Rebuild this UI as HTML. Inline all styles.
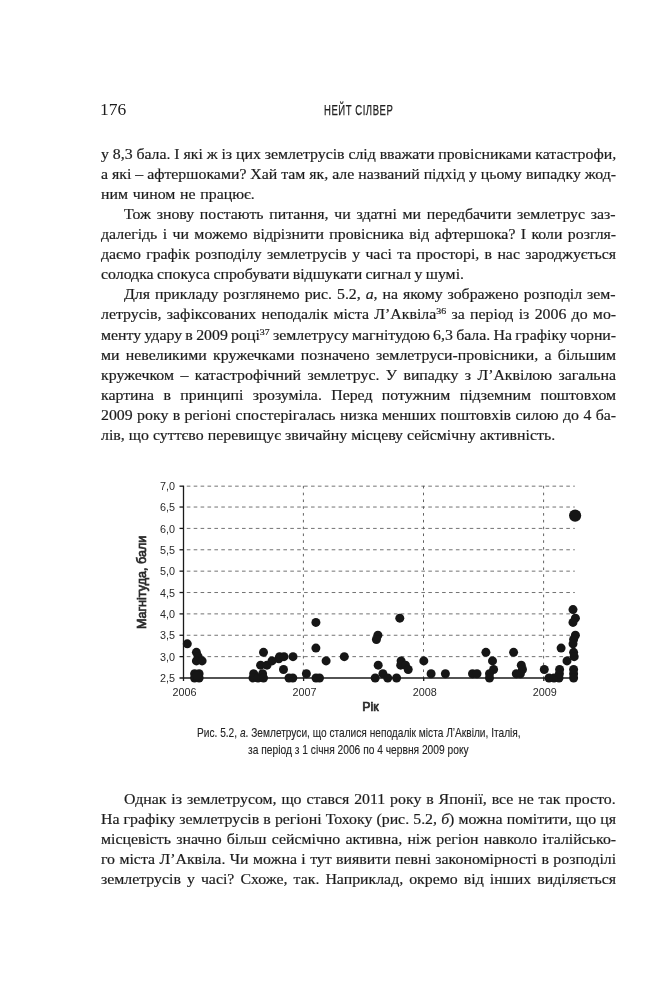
<!DOCTYPE html><html lang="uk"><head><meta charset="utf-8"><title>176</title><style>
html,body{margin:0;padding:0;background:#fff}
#p{position:relative;width:672px;height:1000px;overflow:hidden;background:#fff;color:#1c1c1c;
 font-family:"Liberation Serif",serif;font-size:13.6px;line-height:20px}
.t{position:absolute;white-space:nowrap;transform-origin:0 0;height:20px;-webkit-text-stroke:0.18px #1c1c1c}
.j{text-align:justify;text-align-last:justify}
sup{font-size:8.5px;line-height:0;vertical-align:5px}
.pn{position:absolute;left:99.6px;top:100px;font-size:16.5px;line-height:20px;transform:scaleX(1.06);transform-origin:0 0}
.hd{position:absolute;left:323.6px;top:99.7px;letter-spacing:0.8px;-webkit-text-stroke:0.25px #222;font-family:"Liberation Sans",sans-serif;font-size:14px;line-height:20px;
 white-space:nowrap;transform-origin:0 0;color:#222}
.cp{position:absolute;font-family:"Liberation Sans",sans-serif;font-size:12.6px;line-height:16px;height:16px;white-space:nowrap;
 transform-origin:0 0;color:#222;-webkit-text-stroke:0.1px #222;text-align:justify;text-align-last:justify}
.ch{position:absolute;left:0;top:0}
.g{stroke:#5a5a5a;stroke-width:0.85;stroke-dasharray:3.6 3.3}
.v{stroke-dasharray:2.6 4.2;stroke-width:0.95}
.a{stroke:#1a1a1a;stroke-width:1.3}
circle{fill:#161616}
text{font-family:"Liberation Sans",sans-serif;fill:#2a2a2a}
.yl{font-size:11.5px;text-anchor:end}
.xl{font-size:11.5px;text-anchor:middle}
.xt{font-size:12.6px;text-anchor:middle;stroke:#2a2a2a;stroke-width:0.7px}
.yt{font-size:12.8px;text-anchor:middle;stroke:#2a2a2a;stroke-width:0.7px}
</style></head><body><div id="p">
<div class="pn">176</div>
<div class="hd" id="hd" style="transform:scaleX(0.6801)">НЕЙТ СІЛВЕР</div>
<div class="t" style="top:145.00px;left:100.50px;word-spacing:-0.101px;transform:scaleX(1.1650)">у 8,3 бала. І які ж із цих землетрусів слід вважати провісниками катастрофи,</div>
<div class="t" style="top:165.00px;left:100.50px;word-spacing:-0.022px;transform:scaleX(1.1650)">а які – афтершоками? Хай там як, але названий підхід у цьому випадку жод-</div>
<div class="t" style="top:185.00px;left:100.50px;word-spacing:0.688px;transform:scaleX(1.1650)">ним чином не працює.</div>
<div class="t" style="top:205.00px;left:124.00px;word-spacing:1.497px;transform:scaleX(1.1650)">Тож знову постають питання, чи здатні ми передбачити землетрус заз-</div>
<div class="t" style="top:225.00px;left:100.50px;word-spacing:1.232px;transform:scaleX(1.1650)">далегідь і чи можемо відрізнити провісника від афтершока? І коли розгля-</div>
<div class="t" style="top:245.00px;left:100.50px;word-spacing:1.177px;transform:scaleX(1.1650)">даємо графік розподілу землетрусів у часі та просторі, в нас зароджується</div>
<div class="t" style="top:265.00px;left:100.50px;word-spacing:-0.535px;transform:scaleX(1.1650)">солодка спокуса спробувати відшукати сигнал у шумі.</div>
<div class="t" style="top:285.00px;left:124.00px;word-spacing:0.829px;transform:scaleX(1.1650)">Для прикладу розглянемо рис. 5.2, <i>а</i>, на якому зображено розподіл зем-</div>
<div class="t" style="top:305.00px;left:100.50px;word-spacing:1.144px;transform:scaleX(1.1650)">летрусів, зафіксованих неподалік міста Л’Аквіла<sup>36</sup> за період із 2006 до мо-</div>
<div class="t" style="top:326.00px;left:100.50px;word-spacing:-0.576px;transform:scaleX(1.1650)">менту удару в 2009 році<sup>37</sup> землетрусу магнітудою 6,3 бала. На графіку чорни-</div>
<div class="t" style="top:346.00px;left:100.50px;word-spacing:2.030px;transform:scaleX(1.1650)">ми невеликими кружечками позначено землетруси-провісники, а більшим</div>
<div class="t" style="top:366.00px;left:100.50px;word-spacing:2.112px;transform:scaleX(1.1650)">кружечком – катастрофічний землетрус. У випадку з Л’Аквілою загальна</div>
<div class="t" style="top:386.00px;left:100.50px;word-spacing:4.630px;transform:scaleX(1.1650)">картина в принципі зрозуміла. Перед потужним підземним поштовхом</div>
<div class="t" style="top:406.00px;left:100.50px;word-spacing:0.380px;transform:scaleX(1.1650)">2009 року в регіоні спостерігалась низка менших поштовхів силою до 4 ба-</div>
<div class="t" style="top:426.00px;left:100.50px;word-spacing:0.090px;transform:scaleX(1.1650)">лів, що суттєво перевищує звичайну місцеву сейсмічну активність.</div>
<div class="t" style="top:790.00px;left:124.00px;word-spacing:0.792px;transform:scaleX(1.1650)">Однак із землетрусом, що стався 2011 року в Японії, все не так просто.</div>
<div class="t" style="top:810.00px;left:100.50px;word-spacing:0.157px;transform:scaleX(1.1650)">На графіку землетрусів в регіоні Тохоку (рис. 5.2, <i>б</i>) можна помітити, що ця</div>
<div class="t" style="top:830.00px;left:100.50px;word-spacing:1.020px;transform:scaleX(1.1650)">місцевість значно більш сейсмічно активна, ніж регіон навколо італійсько-</div>
<div class="t" style="top:850.00px;left:100.50px;word-spacing:0.384px;transform:scaleX(1.1650)">го міста Л’Аквіла. Чи можна і тут виявити певні закономірності в розподілі</div>
<div class="t" style="top:870.00px;left:100.50px;word-spacing:1.789px;transform:scaleX(1.1650)">землетрусів у часі? Схоже, так. Наприклад, окремо від інших виділяється</div>
<svg class="ch" width="672" height="1000" viewBox="0 0 672 1000">
<line x1="186.8" y1="656.63" x2="574.8" y2="656.63" class="g"/>
<line x1="186.8" y1="635.26" x2="574.8" y2="635.26" class="g"/>
<line x1="186.8" y1="613.89" x2="574.8" y2="613.89" class="g"/>
<line x1="186.8" y1="592.52" x2="574.8" y2="592.52" class="g"/>
<line x1="186.8" y1="571.15" x2="574.8" y2="571.15" class="g"/>
<line x1="186.8" y1="549.78" x2="574.8" y2="549.78" class="g"/>
<line x1="186.8" y1="528.41" x2="574.8" y2="528.41" class="g"/>
<line x1="186.8" y1="507.04" x2="574.8" y2="507.04" class="g"/>
<line x1="186.8" y1="486.17" x2="574.8" y2="486.17" class="g"/>
<line x1="303.40" y1="485.87" x2="303.40" y2="678.00" class="g v"/>
<line x1="423.50" y1="485.87" x2="423.50" y2="678.00" class="g v"/>
<line x1="543.60" y1="485.87" x2="543.60" y2="678.00" class="g v"/>
<line x1="183.50" y1="485.67" x2="183.50" y2="681.00" class="a"/>
<line x1="179.50" y1="678.00" x2="574.80" y2="678.00" class="a"/>
<line x1="179.50" y1="656.63" x2="183.50" y2="656.63" class="a"/>
<line x1="179.50" y1="635.26" x2="183.50" y2="635.26" class="a"/>
<line x1="179.50" y1="613.89" x2="183.50" y2="613.89" class="a"/>
<line x1="179.50" y1="592.52" x2="183.50" y2="592.52" class="a"/>
<line x1="179.50" y1="571.15" x2="183.50" y2="571.15" class="a"/>
<line x1="179.50" y1="549.78" x2="183.50" y2="549.78" class="a"/>
<line x1="179.50" y1="528.41" x2="183.50" y2="528.41" class="a"/>
<line x1="179.50" y1="507.04" x2="183.50" y2="507.04" class="a"/>
<line x1="179.50" y1="486.17" x2="183.50" y2="486.17" class="a"/>
<line x1="303.60" y1="678.00" x2="303.60" y2="681.00" class="a"/>
<line x1="423.70" y1="678.00" x2="423.70" y2="681.00" class="a"/>
<line x1="543.80" y1="678.00" x2="543.80" y2="681.00" class="a"/>
<text transform="translate(175 682.10) scale(0.94 1)" class="yl">2,5</text>
<text transform="translate(175 660.73) scale(0.94 1)" class="yl">3,0</text>
<text transform="translate(175 639.36) scale(0.94 1)" class="yl">3,5</text>
<text transform="translate(175 617.99) scale(0.94 1)" class="yl">4,0</text>
<text transform="translate(175 596.62) scale(0.94 1)" class="yl">4,5</text>
<text transform="translate(175 575.25) scale(0.94 1)" class="yl">5,0</text>
<text transform="translate(175 553.88) scale(0.94 1)" class="yl">5,5</text>
<text transform="translate(175 532.51) scale(0.94 1)" class="yl">6,0</text>
<text transform="translate(175 511.14) scale(0.94 1)" class="yl">6,5</text>
<text transform="translate(175 490.27) scale(0.94 1)" class="yl">7,0</text>
<text transform="translate(184.50 695.6) scale(0.94 1)" class="xl">2006</text>
<text transform="translate(304.60 695.6) scale(0.94 1)" class="xl">2007</text>
<text transform="translate(424.70 695.6) scale(0.94 1)" class="xl">2008</text>
<text transform="translate(544.80 695.6) scale(0.94 1)" class="xl">2009</text>
<text transform="translate(370.4 710.8) scale(0.98 1)" class="xt">Рік</text>
<text transform="translate(146.3 582.4) rotate(-90) scale(0.985 1)" class="yt">Магнітуда, бали</text>
<circle cx="187.3" cy="643.81" r="4.5"/>
<circle cx="196.4" cy="652.36" r="4.5"/>
<circle cx="198.2" cy="656.63" r="4.5"/>
<circle cx="196.4" cy="660.90" r="4.5"/>
<circle cx="202.1" cy="660.90" r="4.5"/>
<circle cx="194.6" cy="673.73" r="4.5"/>
<circle cx="199.1" cy="673.73" r="4.5"/>
<circle cx="194.6" cy="678.00" r="4.5"/>
<circle cx="199.1" cy="678.00" r="4.5"/>
<circle cx="197.0" cy="675.86" r="4.5"/>
<circle cx="263.5" cy="652.36" r="4.5"/>
<circle cx="260.6" cy="665.18" r="4.5"/>
<circle cx="267.0" cy="665.18" r="4.5"/>
<circle cx="272.0" cy="660.90" r="4.5"/>
<circle cx="278.8" cy="658.77" r="4.5"/>
<circle cx="279.6" cy="656.63" r="4.5"/>
<circle cx="284.0" cy="656.63" r="4.5"/>
<circle cx="293.0" cy="656.63" r="4.5"/>
<circle cx="283.5" cy="669.45" r="4.5"/>
<circle cx="253.7" cy="673.73" r="4.5"/>
<circle cx="262.6" cy="673.73" r="4.5"/>
<circle cx="253.0" cy="678.00" r="4.5"/>
<circle cx="258.0" cy="678.00" r="4.5"/>
<circle cx="263.5" cy="678.00" r="4.5"/>
<circle cx="289.0" cy="678.00" r="4.5"/>
<circle cx="292.8" cy="678.00" r="4.5"/>
<circle cx="306.4" cy="673.73" r="4.5"/>
<circle cx="316.0" cy="678.00" r="4.5"/>
<circle cx="319.5" cy="678.00" r="4.5"/>
<circle cx="315.9" cy="622.44" r="4.5"/>
<circle cx="315.9" cy="648.08" r="4.5"/>
<circle cx="326.1" cy="660.90" r="4.5"/>
<circle cx="344.3" cy="656.63" r="4.5"/>
<circle cx="377.9" cy="635.26" r="4.5"/>
<circle cx="376.4" cy="639.53" r="4.5"/>
<circle cx="399.8" cy="618.16" r="4.5"/>
<circle cx="378.2" cy="665.18" r="4.5"/>
<circle cx="401.1" cy="660.90" r="4.5"/>
<circle cx="400.7" cy="665.18" r="4.5"/>
<circle cx="405.5" cy="665.18" r="4.5"/>
<circle cx="408.2" cy="669.45" r="4.5"/>
<circle cx="423.8" cy="660.90" r="4.5"/>
<circle cx="375.2" cy="678.00" r="4.5"/>
<circle cx="382.9" cy="673.73" r="4.5"/>
<circle cx="387.7" cy="678.00" r="4.5"/>
<circle cx="396.6" cy="678.00" r="4.5"/>
<circle cx="431.1" cy="673.73" r="4.5"/>
<circle cx="445.4" cy="673.73" r="4.5"/>
<circle cx="472.5" cy="673.73" r="4.5"/>
<circle cx="477.0" cy="673.73" r="4.5"/>
<circle cx="485.9" cy="652.36" r="4.5"/>
<circle cx="492.5" cy="660.90" r="4.5"/>
<circle cx="493.6" cy="669.45" r="4.5"/>
<circle cx="489.5" cy="673.73" r="4.5"/>
<circle cx="489.5" cy="678.00" r="4.5"/>
<circle cx="513.6" cy="652.36" r="4.5"/>
<circle cx="521.3" cy="665.18" r="4.5"/>
<circle cx="522.5" cy="669.45" r="4.5"/>
<circle cx="516.3" cy="673.73" r="4.5"/>
<circle cx="520.4" cy="673.73" r="4.5"/>
<circle cx="544.3" cy="669.45" r="4.5"/>
<circle cx="549.0" cy="678.00" r="4.5"/>
<circle cx="554.0" cy="678.00" r="4.5"/>
<circle cx="559.0" cy="678.00" r="4.5"/>
<circle cx="559.4" cy="673.73" r="4.5"/>
<circle cx="559.6" cy="669.45" r="4.5"/>
<circle cx="573.0" cy="609.62" r="4.5"/>
<circle cx="575.4" cy="618.16" r="4.5"/>
<circle cx="573.0" cy="622.44" r="4.5"/>
<circle cx="575.4" cy="635.26" r="4.5"/>
<circle cx="573.6" cy="639.53" r="4.5"/>
<circle cx="573.0" cy="643.81" r="4.5"/>
<circle cx="561.1" cy="648.08" r="4.5"/>
<circle cx="573.6" cy="652.36" r="4.5"/>
<circle cx="574.2" cy="656.63" r="4.5"/>
<circle cx="567.0" cy="660.90" r="4.5"/>
<circle cx="573.6" cy="669.45" r="4.5"/>
<circle cx="573.6" cy="673.73" r="4.5"/>
<circle cx="573.6" cy="678.00" r="4.5"/>
<circle cx="575.1" cy="515.59" r="6.1"/>
</svg>
<div class="cp" id="c1" style="top:724.74px;left:196.60px;width:401.53px;transform:scaleX(0.8059)">Рис. 5.2, <i>а</i>. Землетруси, що сталися неподалік міста Л’Аквіли, Італія,</div>
<div class="cp" id="c2" style="top:741.84px;left:247.70px;width:271.52px;transform:scaleX(0.8125)">за період з 1 січня 2006 по 4 червня 2009 року</div>
</div></body></html>
